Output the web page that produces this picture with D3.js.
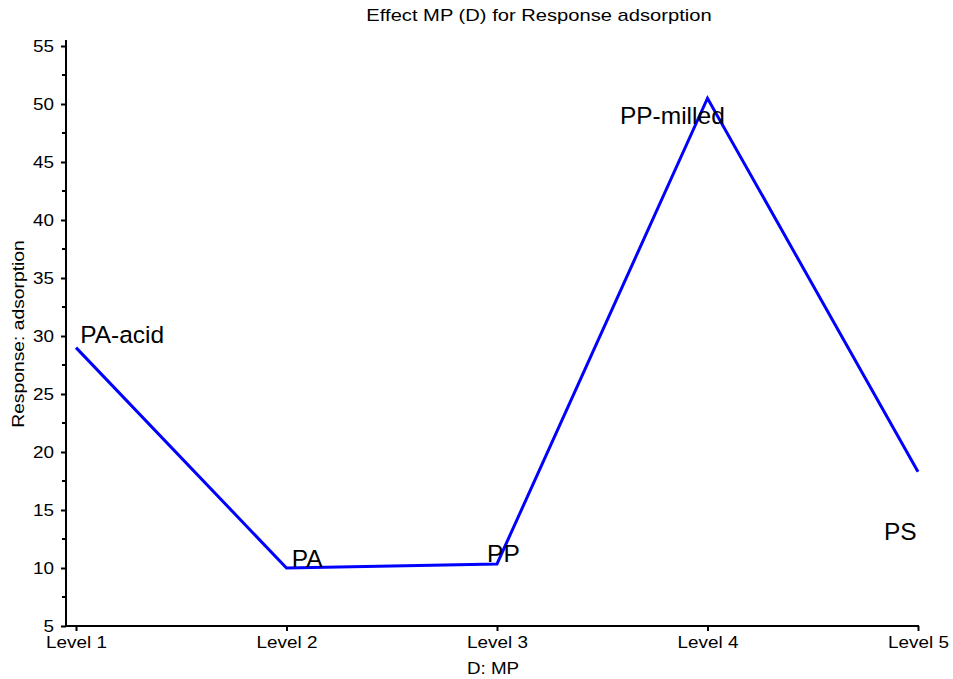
<!DOCTYPE html>
<html>
<head>
<meta charset="utf-8">
<script src="https://cdn.jsdelivr.net/npm/d3@7"></script>
<style>
  html, body { margin: 0; padding: 0; background: #fff; }
  svg { display: block; font-family: "Liberation Sans", Arial, sans-serif; }
</style>
</head>
<body>
<svg id="chart" width="953" height="679"></svg>
<script>
// Factor levels and mean response for each MP type
const levels = ["Level 1", "Level 2", "Level 3", "Level 4", "Level 5"];
const responses = [29.0, 10.0, 10.35, 50.5, 18.3];
const pointNames = ["PA-acid", "PA", "PP", "PP-milled", "PS"];
// Label anchors in data units (level index, response)
const labelLevel = [0.02, 1.025, 1.953, 2.584, 3.838];
const labelValue = [29.4, 10.09, 10.5, 48.3, 12.4];
const yTicks = [5, 10, 15, 20, 25, 30, 35, 40, 45, 50, 55];
const yMinorTicks = [7.5, 12.5, 17.5, 22.5, 27.5, 32.5, 37.5, 42.5, 47.5, 52.5];

const svg = d3.select("#chart");
const plotLeft = 66, plotRight = 919, plotTop = 46, plotBottom = 626;
const wide = 1.18; // horizontal stretch of the axis lettering

const xIdx = d3.scaleLinear().domain([0, levels.length - 1]).range([76, 918]);
const y = d3.scaleLinear().domain([5, 55]).range([plotBottom, plotTop]);

// Title
svg.append("text")
  .attr("transform", "translate(539,21) scale(1.26,1)")
  .attr("text-anchor", "middle")
  .attr("font-size", 16)
  .text("Effect MP (D) for Response adsorption");

// Y axis
const yAxis = d3.axisLeft(y).tickValues(yTicks).tickSize(5).tickPadding(7);
const gy = svg.append("g").attr("transform", `translate(${plotLeft},0)`).call(yAxis);
gy.select(".domain").attr("stroke-width", 2).attr("d", `M0,${plotBottom}V${plotTop - 6}`);
gy.selectAll(".tick line").attr("stroke-width", 2);
gy.selectAll(".tick text")
  .attr("font-size", 16).attr("fill", "#000")
  .attr("x", 0)
  .attr("transform", `translate(-12,0) scale(${wide},1)`);
svg.append("g").selectAll("line").data(yMinorTicks).join("line")
  .attr("x1", plotLeft - 4).attr("x2", plotLeft)
  .attr("y1", d => y(d)).attr("y2", d => y(d))
  .attr("stroke", "#000").attr("stroke-width", 2);

// X axis
const xBand = d3.scalePoint().domain(levels).range([76, 918]);
const xAxis = d3.axisBottom(xBand).tickSize(5).tickPadding(6);
const gx = svg.append("g").attr("transform", `translate(0,${plotBottom})`).call(xAxis);
gx.select(".domain").attr("stroke-width", 2).attr("d", `M${plotLeft},0H${plotRight}`);
gx.selectAll(".tick line").attr("stroke-width", 2);
gx.selectAll(".tick text")
  .attr("font-size", 16).attr("fill", "#000")
  .attr("transform", `scale(${wide},1)`);

// Axis titles
svg.append("text")
  .attr("transform", `translate(${xIdx(2) - 4},674) scale(1.14,1)`)
  .attr("text-anchor", "middle").attr("font-size", 16.5)
  .text("D: MP");
svg.append("text")
  .attr("transform", `translate(24,334) rotate(-90) scale(1.17,1)`)
  .attr("text-anchor", "middle").attr("font-size", 16.5)
  .text("Response: adsorption");

// Effect line
const line = d3.line().x((d, i) => xIdx(i)).y(d => y(d));
svg.append("path")
  .datum(responses)
  .attr("d", line)
  .attr("fill", "none")
  .attr("stroke", "#0000ff")
  .attr("stroke-width", 3);

// Point labels
svg.append("g").selectAll("text").data(pointNames).join("text")
  .attr("x", (d, i) => xIdx(labelLevel[i]))
  .attr("y", (d, i) => y(labelValue[i]))
  .attr("font-size", 24.5)
  .attr("fill", "#000")
  .text(d => d);
</script>
</body>
</html>
